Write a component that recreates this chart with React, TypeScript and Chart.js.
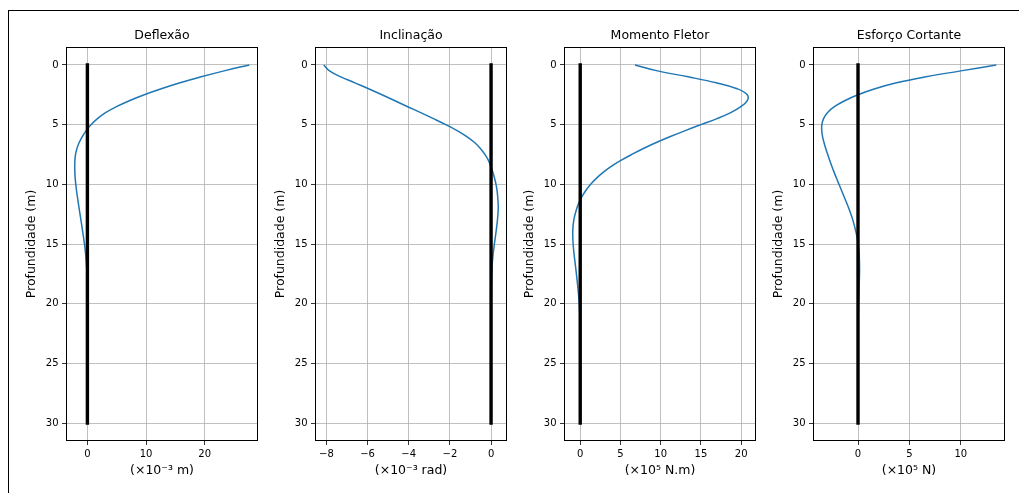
import React, { useEffect, useRef } from "react";
import { Chart, registerables } from "chart.js";

Chart.register(...registerables);

// ---------- data ----------
const depth = [
  0, 0.5, 1, 1.5, 2, 2.5, 3, 3.5, 4, 4.5, 5, 5.5, 6, 6.5, 7, 7.5, 8, 8.5, 9, 9.5, 10, 10.5, 11, 11.5, 12,
  13, 14, 15, 16, 17, 18, 19, 20, 22, 25, 30,
];

const deflection = [
  27.6, 23.3, 19.4, 15.8, 12.6, 9.7, 7.15, 4.95, 3.1, 1.72, 0.65, -0.2, -0.87, -1.4, -1.78, -2.02, -2.13, -2.16, -2.14, -2.08, -1.98, -1.86, -1.72, -1.57, -1.42,
  -1.1, -0.79, -0.5, -0.27, -0.12, -0.04, -0.01, 0, 0, 0, 0,
];

const inclination = [
  -8.13, -7.85, -7.3, -6.62, -5.95, -5.3, -4.67, -4.05, -3.42, -2.8, -2.2, -1.65, -1.18, -0.8, -0.52, -0.3, -0.13, -0.01, 0.09, 0.17, 0.24, 0.29, 0.32, 0.34, 0.35,
  0.31, 0.24, 0.16, 0.09, 0.045, 0.02, 0.005, 0, 0, 0, 0,
];

const moment = [
  6.8, 9.6, 13.4, 16.9, 19.5, 20.75, 20.75, 19.95, 18.7, 17.0, 15.0, 13.05, 11.2, 9.45, 7.85, 6.4, 5.05, 3.85, 2.85, 2.0, 1.3, 0.72, 0.25, -0.13, -0.42,
  -0.8, -0.93, -0.88, -0.74, -0.56, -0.39, -0.24, -0.12, -0.01, 0, 0,
];

const shear = [
  13.45, 10.0, 6.6, 3.75, 1.65, 0, -1.3, -2.3, -2.98, -3.35, -3.52, -3.53, -3.45, -3.31, -3.14, -2.95, -2.75, -2.54, -2.32, -2.09, -1.85, -1.61, -1.37, -1.13, -0.9,
  -0.5, -0.2, 0.02, 0.12, 0.15, 0.13, 0.09, 0.05, 0.01, 0, 0,
];

const pileDepth = [0, 30];
const pileOffset = 0;

const titles = ["Deflexão", "Inclinação", "Momento Fletor", "Esforço Cortante"];
const xLabels = ["(×10⁻³ m)", "(×10⁻³ rad)", "(×10⁵ N.m)", "(×10⁵ N)"];
const yLabel = "Profundidade (m)";
const xTicks = [
  [0, 10, 20],
  [-8, -6, -4, -2, 0],
  [0, 5, 10, 15, 20],
  [0, 5, 10],
];
const yTicks = [0, 5, 10, 15, 20, 25, 30];
const seriesList = [deflection, inclination, moment, shear];

// ---------- layout / style ----------
const FONT = "'DejaVu Sans', sans-serif";
const PLOT_W = 192;
const Y_AXIS_W = 66;
const X_AXIS_H = 52;
const CANVAS_W = Y_AXIS_W + PLOT_W + Y_AXIS_W;
const CANVAS_H = 493;
const CANVAS_LEFTS = [0, 249, 498, 747];

const fmt = (v: number) => (v < 0 ? "\u2212" + Math.abs(v) : String(v));

function withMargin(values: number[]) {
  const lo = Math.min(...values);
  const hi = Math.max(...values);
  const m = (hi - lo) * 0.05;
  return [lo - m, hi + m];
}

const spinesPlugin = {
  id: "spines",
  afterDraw(chart: any) {
    const { ctx, chartArea: a } = chart;
    ctx.save();
    ctx.strokeStyle = "#000";
    ctx.lineWidth = 1;
    ctx.strokeRect(
      Math.round(a.left) + 0.5,
      Math.round(a.top) + 0.5,
      Math.round(a.right) - Math.round(a.left) - 1,
      Math.round(a.bottom) - Math.round(a.top) - 1
    );
    ctx.restore();
  },
};

function Panel({ index }: { index: number }) {
  const ref = useRef<HTMLCanvasElement | null>(null);

  useEffect(() => {
    if (!ref.current) return;
    const series = seriesList[index];
    const [xMin, xMax] = withMargin([...series, pileOffset]);
    const [yMin, yMax] = withMargin(pileDepth);
    const ticksX = xTicks[index];

    const gridOpts = {
      color: "#b0b0b0",
      lineWidth: 0.8,
      tickLength: 4,
      tickColor: "#000",
      tickWidth: 0.8,
    };

    const chart = new Chart(ref.current, {
      type: "scatter",
      data: {
        datasets: [
          {
            data: pileDepth.map((d) => ({ x: pileOffset, y: d })),
            showLine: true,
            borderColor: "#000",
            borderWidth: 3.4,
            borderCapStyle: "square",
            pointRadius: 0,
          },
          {
            data: depth.map((d, i) => ({ x: series[i], y: d })),
            showLine: true,
            borderColor: "#1f77b4",
            borderWidth: 1.5,
            tension: 0.4,
            pointRadius: 0,
          },
        ],
      } as any,
      options: {
        responsive: false,
        animation: false,
        devicePixelRatio: 1,
        events: [],
        layout: { padding: 0 },
        plugins: {
          legend: { display: false },
          tooltip: { enabled: false },
          title: {
            display: true,
            text: titles[index],
            color: "#000",
            font: { family: FONT, size: 12.5, weight: "normal" },
            padding: { top: 28.5, bottom: 3.5 },
          },
        },
        scales: {
          x: {
            type: "linear",
            position: "bottom",
            min: xMin,
            max: xMax,
            afterBuildTicks: (s: any) => {
              s.ticks = ticksX.map((v) => ({ value: v }));
            },
            afterFit: (s: any) => {
              s.height = X_AXIS_H;
            },
            ticks: {
              color: "#000",
              font: { family: FONT, size: 10 },
              padding: 3,
              maxRotation: 0,
              callback: (v: any) => fmt(Number(v)),
            },
            grid: gridOpts,
            border: { display: false },
            title: {
              display: true,
              text: xLabels[index],
              color: "#000",
              font: { family: FONT, size: 12.5 },
              padding: { top: 0, bottom: 14.8 },
            },
          },
          y: {
            type: "linear",
            position: "left",
            reverse: true,
            min: yMin,
            max: yMax,
            afterBuildTicks: (s: any) => {
              s.ticks = yTicks.map((v) => ({ value: v }));
            },
            afterFit: (s: any) => {
              s.width = Y_AXIS_W;
            },
            ticks: {
              color: "#000",
              font: { family: FONT, size: 10 },
              padding: 3.5,
              callback: (v: any) => fmt(Number(v)),
            },
            grid: gridOpts,
            border: { display: false },
            title: {
              display: true,
              text: yLabel,
              color: "#000",
              font: { family: FONT, size: 12.5 },
              padding: { top: 24.5, bottom: 0 },
            },
          },
          // empty right-hand spacer so the title is centred over the plot area
          spacer: {
            type: "linear",
            position: "right",
            display: true,
            grid: { display: false, drawTicks: false },
            ticks: { display: false },
            border: { display: false },
            afterFit: (s: any) => {
              s.width = Y_AXIS_W;
            },
          },
        },
      } as any,
      plugins: [spinesPlugin],
    });
    return () => chart.destroy();
  }, [index]);

  return (
    <canvas
      ref={ref}
      width={CANVAS_W}
      height={CANVAS_H}
      style={{
        position: "absolute",
        left: CANVAS_LEFTS[index],
        top: 0,
        width: CANVAS_W,
        height: CANVAS_H,
      }}
    />
  );
}

export default function App() {
  return (
    <div
      style={{
        position: "fixed",
        left: 0,
        top: 0,
        width: 1019,
        height: 493,
        overflow: "hidden",
        background: "#fff",
      }}
    >
      <div
        style={{
          position: "absolute",
          left: 8,
          top: 10,
          width: 1200,
          height: 800,
          borderTop: "1px solid #000",
          borderLeft: "1px solid #000",
        }}
      />
      {titles.map((_, i) => (
        <Panel key={i} index={i} />
      ))}
    </div>
  );
}
